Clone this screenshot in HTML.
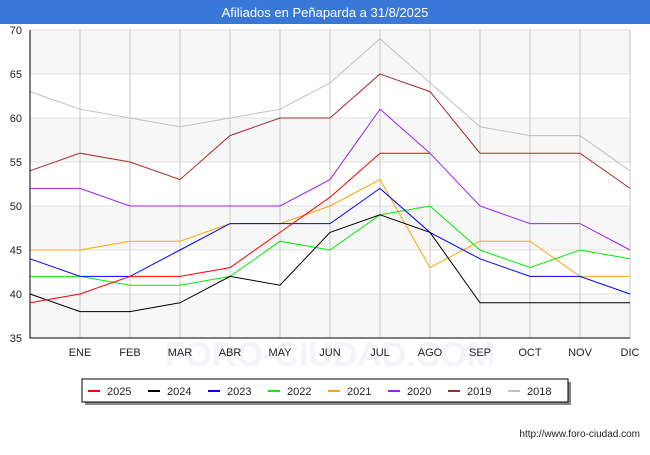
<!DOCTYPE html>
<html><head><meta charset="utf-8"><style>
body{margin:0;width:650px;height:450px;background:#fff;font-family:"Liberation Sans",sans-serif;overflow:hidden}
</style></head><body>
<svg width="650" height="450" xmlns="http://www.w3.org/2000/svg" id="svg">
<rect x="0" y="0" width="650" height="24" fill="#3a78d8"/>
<text x="325" y="17" font-size="13" fill="#fff" text-anchor="middle" font-family="Liberation Sans, sans-serif">Afiliados en Peñaparda a 31/8/2025</text>
<g id="plot"></g>
<text x="640" y="437" font-size="10" fill="#222" text-anchor="end" font-family="Liberation Sans, sans-serif">http://www.foro-ciudad.com</text>
</svg>
<script>
const months=["","ENE","FEB","MAR","ABR","MAY","JUN","JUL","AGO","SEP","OCT","NOV","DIC"];
const yTicks=[35,40,45,50,55,60,65,70];
const seriesNames=["2025","2024","2023","2022","2021","2020","2019","2018"];
const seriesColors=["#ff0000","#000000","#0000ff","#00ee00","#ffa500","#a020f0","#a52a2a","#c0c0c0"];
const s2025=[39,40,42,42,43,47,51,56,56];
const s2024=[40,38,38,39,42,41,47,49,47,39,39,39,39];
const s2023=[44,42,42,45,48,48,48,52,47,44,42,42,40];
const s2022=[42,42,41,41,42,46,45,49,50,45,43,45,44];
const s2021=[45,45,46,46,48,48,50,53,43,46,46,42,42];
const s2020=[52,52,50,50,50,50,53,61,56,50,48,48,45];
const s2019=[54,56,55,53,58,60,60,65,63,56,56,56,52];
const s2018=[63,61,60,59,60,61,64,69,64,59,58,58,54];
const allSeries=[s2025,s2024,s2023,s2022,s2021,s2020,s2019,s2018];
const NS="http://www.w3.org/2000/svg";
const L=30,R=630,T=30,B=338,yMin=35,yMax=70;
const x=i=>L+i*(R-L)/(months.length-1);
const y=v=>B-(v-yMin)*(B-T)/(yMax-yMin);
const g=document.getElementById('plot');
function mk(t,a){const e=document.createElementNS(NS,t);for(const k in a)e.setAttribute(k,a[k]);g.appendChild(e);return e;}
const wm=mk('text',{x:330,y:366,'font-size':34,'text-anchor':'middle',fill:'#f3f4f8','font-weight':'bold'});wm.textContent="FORO-CIUDAD.COM";


for(let i=0;i<yTicks.length-1;i++){
 if(i%2===0){const b=mk('rect',{x:L,y:y(yTicks[i+1]),width:R-L,height:y(yTicks[i])-y(yTicks[i+1]),fill:'#f7f7f7'});
 
 }
}
yTicks.forEach(v=>{
 const l=mk('line',{x1:L,x2:R,y1:y(v),y2:y(v),stroke:'#e0e0e0'});
 
 
 const t=mk('text',{x:L-8,y:y(v)+4,'font-size':11,'text-anchor':'end',fill:'#222'});t.textContent=v;
 
 
});
months.forEach((m,i)=>{
 if(i>0){const l=mk('line',{x1:x(i),x2:x(i),y1:T,y2:B,stroke:'#c8c8c8'});
 
 }
 const t=mk('text',{x:x(i),y:B+18,'font-size':11,'text-anchor':'middle',fill:'#222'});t.textContent=m;
 
 
});
for(let s=allSeries.length-1;s>=0;s--){
 const p=mk('polyline',{points:allSeries[s].map((v,i)=>x(i)+','+y(v)).join(' '),fill:'none',stroke:seriesColors[s],'stroke-width':1});
 
 
}
const ax=mk('path',{d:`M${L},${T}V${B}H${R}`,fill:'none',stroke:'#000','stroke-width':1});


const sh=mk('rect',{x:85,y:382,width:486,height:23,fill:'#888'});


const lb=mk('rect',{x:82,y:379,width:486,height:23,fill:'#fff',stroke:'#000'});


seriesNames.forEach((n,i)=>{
 const lx=88+i*60;
 const l=mk('line',{x1:lx,x2:lx+12,y1:391,y2:391,stroke:seriesColors[i],'stroke-width':2});
 
 
 const t=mk('text',{x:lx+19,y:395,'font-size':11,fill:'#222'});t.textContent=n;
 
 
});
</script>
</body></html>
